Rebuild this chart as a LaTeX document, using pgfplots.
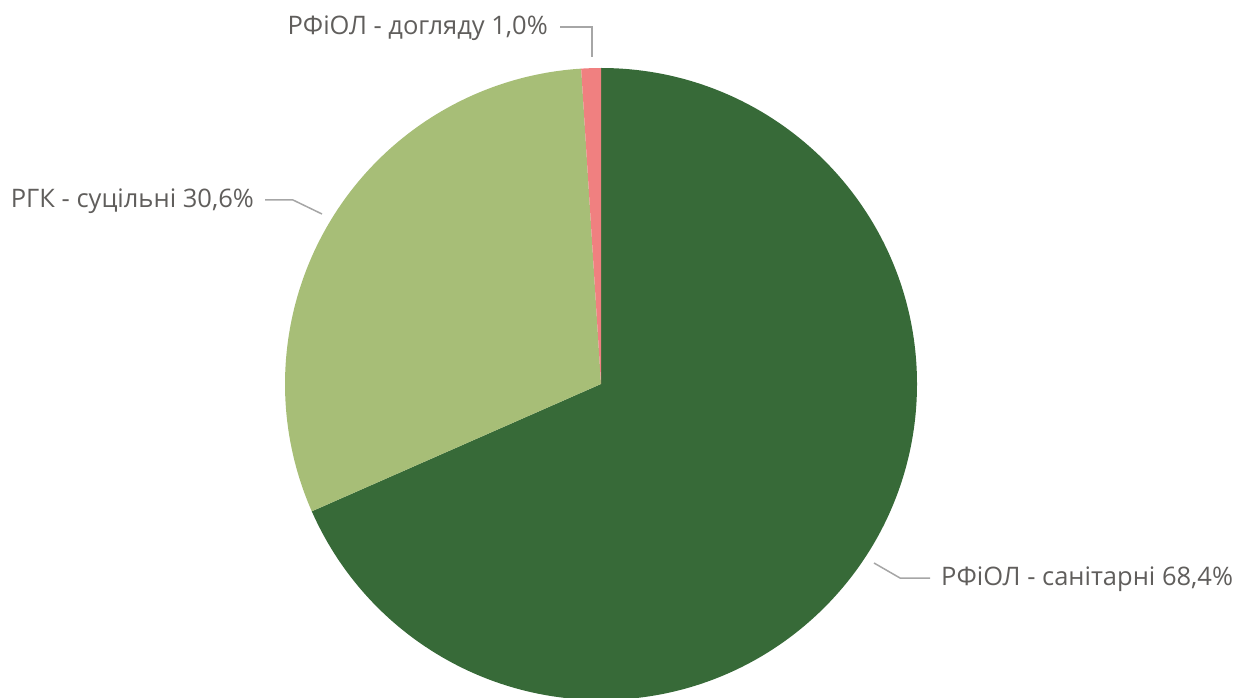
\documentclass[border=0pt]{standalone}
\usepackage{fontspec}
\setmainfont{Open Sans}
\usepackage{pgfplots}
\usepackage{pgfplotstable}
\pgfplotsset{compat=1.18}
\definecolor{cDark}{HTML}{376A38}
\definecolor{cLight}{HTML}{A7BE77}
\definecolor{cPink}{HTML}{F08080}
\definecolor{cText}{HTML}{605E5C}
\definecolor{cLine}{HTML}{A6A6A6}
\pgfplotstableread{
label value
1 68.4
2 30.6
3 1.0
}\piedata
\pgfplotstablegetelem{0}{value}\of\piedata \let\vA\pgfplotsretval
\pgfplotstablegetelem{1}{value}\of\piedata \let\vB\pgfplotsretval
\pgfplotstablegetelem{2}{value}\of\piedata \let\vC\pgfplotsretval
\pgfmathsetmacro{\aA}{90-3.6*\vA}
\pgfmathsetmacro{\aB}{\aA-3.6*\vB}
\pgfmathsetmacro{\aC}{\aB-3.6*\vC}
\begin{document}
\begin{tikzpicture}
\useasboundingbox (0,0) rectangle (1237pt,697pt);
\begin{axis}[
  at={(0,0)}, anchor=south west,
  x=1pt, y=1pt, scale only axis,
  xmin=0, xmax=1237, ymin=0, ymax=697,
  hide axis, clip=false,
]
\fill[cDark] (axis cs:601,313) -- ++(90:316pt) arc[start angle=90, end angle=\aA, radius=316pt] -- cycle;
\fill[cLight] (axis cs:601,313) -- ++(\aA:316pt) arc[start angle=\aA, end angle=\aB, radius=316pt] -- cycle;
\fill[cPink] (axis cs:601,313) -- ++(\aB:316pt) arc[start angle=\aB, end angle=\aC, radius=316pt] -- cycle;
% leader lines
\draw[cLine, line width=1.5pt] (axis cs:560,670) -- (axis cs:592,670) -- (axis cs:592,640);
\draw[cLine, line width=1.5pt] (axis cs:265,497) -- (axis cs:293,497) -- (axis cs:322,483);
\draw[cLine, line width=1.5pt] (axis cs:874,134) -- (axis cs:900,119) -- (axis cs:930,119);
% labels
\node[anchor=east, text=cText, font=\fontsize{25.5}{30}\selectfont, inner sep=0pt] at (axis cs:548,669) {РФіОЛ - догляду 1,0\%};
\node[anchor=east, text=cText, font=\fontsize{25.5}{30}\selectfont, inner sep=0pt] at (axis cs:254,496) {РГК - суцільні 30,6\%};
\node[anchor=west, text=cText, font=\fontsize{25.5}{30}\selectfont, inner sep=0pt] at (axis cs:941,118) {РФіОЛ - санітарні 68,4\%};
\end{axis}
\end{tikzpicture}
\end{document}
